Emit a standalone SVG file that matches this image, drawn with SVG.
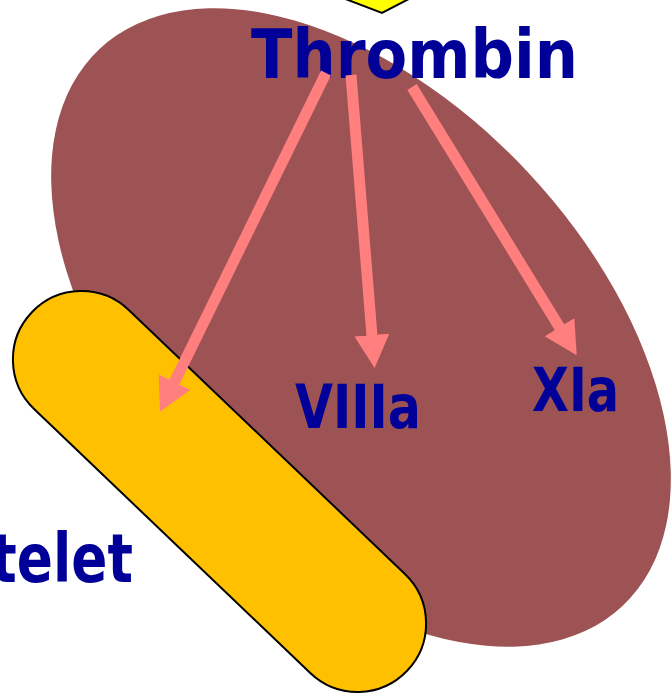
<svg xmlns="http://www.w3.org/2000/svg" width="672" height="696" viewBox="0 0 672 696">
<style>
.lbl{font-family:"DejaVu Sans","Liberation Sans",sans-serif;font-weight:bold;fill:#000099}
.arr{stroke:#FF7F7F;stroke-width:11;fill:none;stroke-linecap:butt}
</style>
<defs>
<marker id="ah" viewBox="0 0 33 35" refX="1" refY="17.5" markerWidth="33" markerHeight="35" markerUnits="userSpaceOnUse" orient="auto">
<path d="M0,0 L33,17.5 L0,35 Z" fill="#FF7F7F"/>
</marker>
</defs>
<rect width="672" height="696" fill="#FFFFFF"/>
<g id="factor-top">
<polygon points="322,-10 382,13 426,-10" fill="#FFFF00" stroke="#000000" stroke-width="2"/>
</g>
<g id="complex">
<ellipse cx="361" cy="327.5" rx="382" ry="228" transform="rotate(46.8 361 327.5)" fill="#9D5353"/>
</g>
<g id="platelet">
<rect x="-40" y="423" width="519" height="137" rx="68.5" ry="68.5" transform="rotate(43.7 219.5 491.5)" fill="#FFC000" stroke="#000000" stroke-width="2"/>
<text class="lbl" x="-102" y="582" font-size="68" textLength="235" lengthAdjust="spacingAndGlyphs">Platelet</text>
</g>
<g id="thrombin">
<text class="lbl" x="251" y="78" font-size="68" textLength="327" lengthAdjust="spacingAndGlyphs">Thrombin</text>
</g>
<g id="viiia">
<text class="lbl" x="295" y="428" font-size="60" textLength="126" lengthAdjust="spacingAndGlyphs">VIIIa</text>
</g>
<g id="xia">
<text class="lbl" x="532" y="411" font-size="60" textLength="87" lengthAdjust="spacingAndGlyphs">XIa</text>
</g>
<g id="connectors">
<line class="arr" x1="326" y1="73" x2="174" y2="383" marker-end="url(#ah)"/>
<line class="arr" x1="351" y1="75" x2="372" y2="336" marker-end="url(#ah)"/>
<line class="arr" x1="412" y1="87" x2="560" y2="328" marker-end="url(#ah)"/>
</g>
</svg>
